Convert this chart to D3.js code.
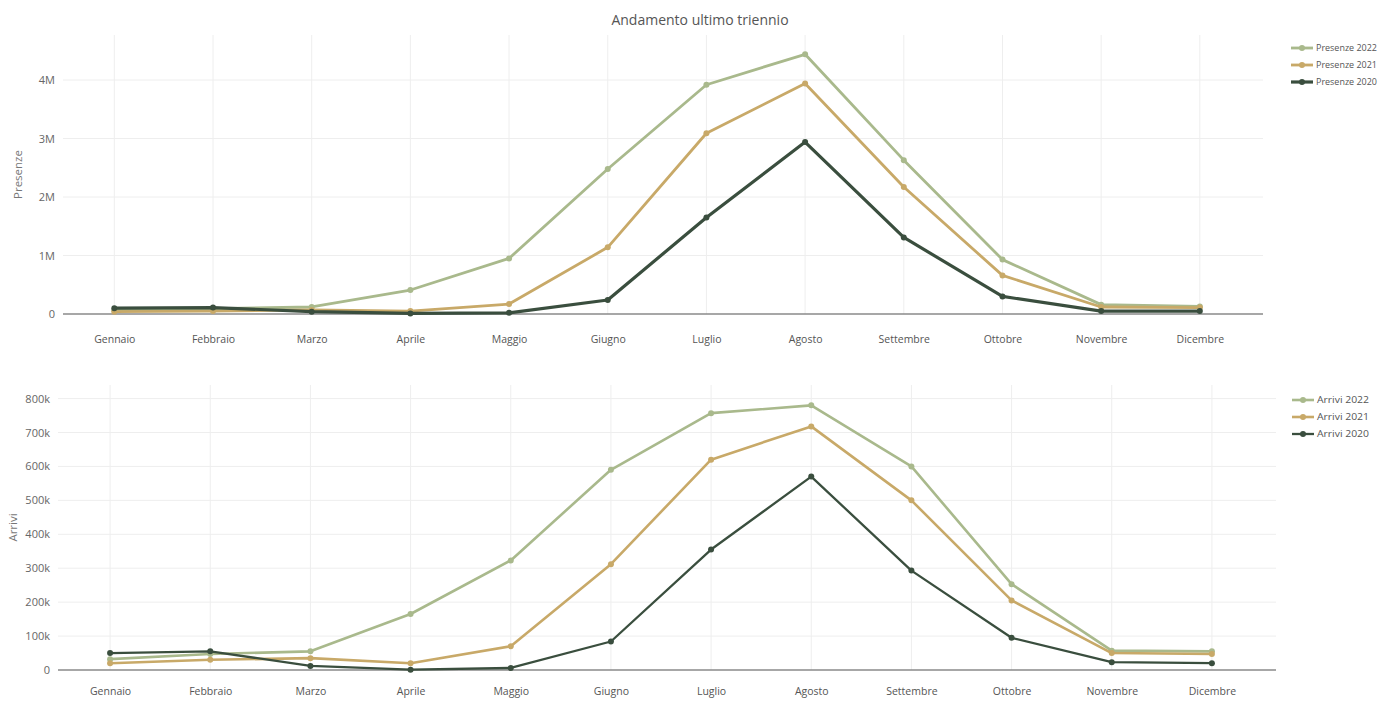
<!DOCTYPE html>
<html>
<head>
<meta charset="utf-8">
<script src="https://cdn.jsdelivr.net/npm/d3@7"></script>
<style>
  body { margin: 0; background: #fff; }
  svg { font-family: "Open Sans", sans-serif; }
</style>
</head>
<body>
<div id="chart"></div>
<script>
const months = ["Gennaio", "Febbraio", "Marzo", "Aprile", "Maggio", "Giugno",
    "Luglio", "Agosto", "Settembre", "Ottobre", "Novembre", "Dicembre"];

// presenze, in units
const presenze2022 = [60000, 90000, 120000, 410000, 950000, 2480000, 3920000, 4440000, 2630000, 930000, 160000, 130000];
const presenze2021 = [40000, 50000, 70000, 50000, 170000, 1140000, 3090000, 3940000, 2170000, 660000, 120000, 110000];
const presenze2020 = [100000, 110000, 40000, 10000, 20000, 240000, 1650000, 2940000, 1310000, 300000, 50000, 50000];

// arrivi
const arrivi2022 = [32000, 47000, 55000, 165000, 323000, 590000, 757000, 780000, 600000, 253000, 57000, 55000];
const arrivi2021 = [20000, 30000, 35000, 20000, 70000, 312000, 620000, 718000, 500000, 205000, 50000, 47000];
const arrivi2020 = [50000, 55000, 12000, 1000, 6000, 84000, 355000, 570000, 293000, 95000, 23000, 20000];

const presenzeTicks = [0, 1e6, 2e6, 3e6, 4e6];
const arriviTicks = [0, 1e5, 2e5, 3e5, 4e5, 5e5, 6e5, 7e5, 8e5];

const colors = {"2022": "#a9b98c", "2021": "#c8a968", "2020": "#3a4e3e"};

const width = 1381, height = 702;
const svg = d3.select("#chart").append("svg")
    .attr("width", width)
    .attr("height", height);

svg.append("text")
    .attr("x", 700)
    .attr("y", 25)
    .attr("text-anchor", "middle")
    .style("font-size", "14px")
    .style("fill", "#555")
    .text("Andamento ultimo triennio");

function drawPanel(cfg) {
    let g = svg.append("g");

    let x = d3.scaleLinear()
        .domain([-0.52, 11.64])
        .range([cfg.left, cfg.right]);

    let y = d3.scaleLinear()
        .domain([0, cfg.yMax])
        .range([cfg.bottom, cfg.top]);

    // vertical grid
    g.append("g").selectAll("line").data(months).join("line")
        .attr("x1", (d, i) => x(i)).attr("x2", (d, i) => x(i))
        .attr("y1", cfg.top).attr("y2", cfg.bottom)
        .attr("stroke", "#eeeeee");

    // horizontal grid
    g.append("g").selectAll("line").data(cfg.ticks.slice(1)).join("line")
        .attr("x1", cfg.left).attr("x2", cfg.right)
        .attr("y1", d => y(d)).attr("y2", d => y(d))
        .attr("stroke", "#eeeeee");

    // zero line
    g.append("line")
        .attr("x1", cfg.left).attr("x2", cfg.right)
        .attr("y1", y(0)).attr("y2", y(0))
        .attr("stroke", "#8a8a8a")
        .attr("stroke-width", 1.3);

    let yAxis = g.append("g")
        .attr("transform", `translate(${cfg.left - 4},0)`)
        .call(d3.axisLeft(y).tickValues(cfg.ticks).tickFormat(cfg.fmt).tickSize(0).tickPadding(4));
    yAxis.select(".domain").remove();
    yAxis.selectAll("text").style("font-size", "11px").style("fill", "#666").style("font-family", "Open Sans, sans-serif");

    let xAxis = g.append("g")
        .attr("transform", `translate(0,${cfg.bottom})`)
        .call(d3.axisBottom(x).tickValues(d3.range(12)).tickFormat(i => months[i]).tickSize(0).tickPadding(cfg.xPad));
    xAxis.select(".domain").remove();
    xAxis.selectAll("text").style("font-size", "10.5px").style("fill", "#555").style("font-family", "Open Sans, sans-serif");

    g.append("text")
        .attr("transform", `translate(${cfg.titleX}, ${(cfg.top + cfg.bottom) / 2}) rotate(-90)`)
        .attr("text-anchor", "middle")
        .style("font-size", "11.5px")
        .style("fill", "#777")
        .text(cfg.title);

    let line = d3.line()
        .x((d, i) => x(i))
        .y(d => y(d));

    // draw 2022 first, 2020 on top
    cfg.series.slice().reverse().forEach(s => {
        g.append("path")
            .datum(s.values)
            .attr("fill", "none")
            .attr("stroke", colors[s.year])
            .attr("stroke-width", s.width)
            .attr("stroke-linejoin", "round")
            .attr("d", line);
        g.append("g").selectAll("circle").data(s.values).join("circle")
            .attr("cx", (d, i) => x(i))
            .attr("cy", d => y(d))
            .attr("r", 3)
            .attr("fill", colors[s.year]);
    });

    // legend
    let leg = g.append("g").attr("transform", `translate(${cfg.legendX}, ${cfg.legendY})`);
    let order = cfg.series.slice().sort((a, b) => b.year - a.year);
    order.forEach((s, i) => {
        let row = leg.append("g").attr("transform", `translate(0, ${i * 17})`);
        row.append("line")
            .attr("x1", 0).attr("x2", 22)
            .attr("stroke", colors[s.year])
            .attr("stroke-width", s.width);
        row.append("circle").attr("cx", 11).attr("r", 3).attr("fill", colors[s.year]);
        row.append("text")
            .attr("x", 25).attr("dy", "0.35em")
            .attr("textLength", cfg.legendTextLen)
            .attr("lengthAdjust", "spacingAndGlyphs")
            .style("font-size", "9.6px")
            .style("fill", "#555")
            .text(cfg.legendLabel + " " + s.year);
    });
}

drawPanel({
    left: 63, right: 1263, top: 35, bottom: 314, yMax: 4.77e6,
    ticks: presenzeTicks,
    fmt: d => d === 0 ? "0" : (d / 1e6) + "M",
    title: "Presenze", titleX: 22, xPad: 22,
    legendX: 1291, legendY: 48, legendLabel: "Presenze", legendTextLen: 61,
    series: [
        {year: "2020", values: presenze2020, width: 3.2},
        {year: "2021", values: presenze2021, width: 2.8},
        {year: "2022", values: presenze2022, width: 2.8}
    ]
});

drawPanel({
    left: 58, right: 1276, top: 385, bottom: 670, yMax: 8.4e5,
    ticks: arriviTicks,
    fmt: d => d === 0 ? "0" : (d / 1e3) + "k",
    title: "Arrivi", titleX: 17, xPad: 18,
    legendX: 1292, legendY: 400, legendLabel: "Arrivi", legendTextLen: 52,
    series: [
        {year: "2020", values: arrivi2020, width: 2.3},
        {year: "2021", values: arrivi2021, width: 2.6},
        {year: "2022", values: arrivi2022, width: 2.6}
    ]
});
</script>
</body>
</html>
